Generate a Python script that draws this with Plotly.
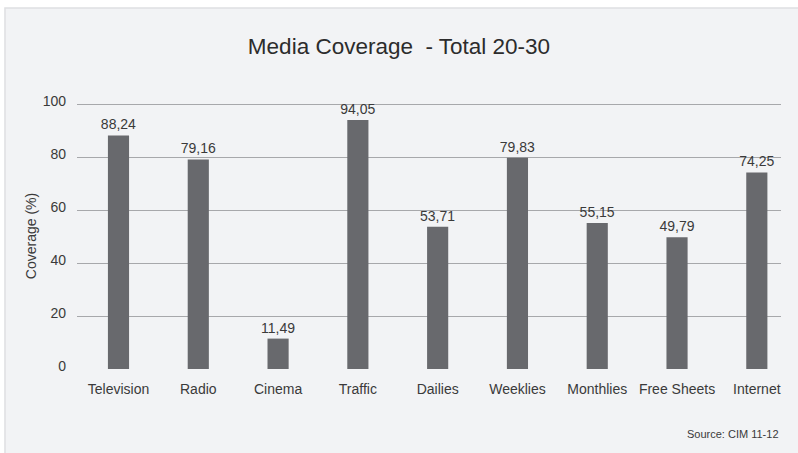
import plotly.graph_objects as go

categories = ["Television", "Radio", "Cinema", "Traffic", "Dailies", "Weeklies",
              "Monthlies", "Free Sheets", "Internet"]
coverage = [88.24, 79.16, 11.49, 94.05, 53.71, 79.83, 55.15, 49.79, 74.25]
y_ticks = [0, 20, 40, 60, 80, 100]

labels = [f"{v:.2f}".replace(".", ",") for v in coverage]

FONT = "Liberation Sans, Arial, Helvetica, sans-serif"
TXT = "#3a3a3a"

fig = go.Figure()
fig.add_trace(go.Bar(
    x=categories, y=coverage, text=labels, textposition="outside",
    constraintext="none",
    textfont=dict(family=FONT, size=14, color=TXT),
    marker=dict(color="#68696d", line=dict(width=0)),
    width=0.265, cliponaxis=False, hoverinfo="x+y",
))

fig.update_layout(
    width=798, height=453,
    margin=dict(l=77, r=17, t=103, b=84),
    paper_bgcolor="#ffffff",
    plot_bgcolor="rgba(0,0,0,0)",
    showlegend=False,
    font=dict(family=FONT, size=14, color=TXT),
    title=dict(text="Media Coverage  - Total 20-30", x=0.5, xanchor="center",
               y=1 - 46 / 453, yanchor="middle", yref="container",
               font=dict(family=FONT, size=22.5, color="#2c2c2c")),
    xaxis=dict(type="category", range=[-0.52, 8.303], showgrid=False,
               zeroline=False, showline=False, ticks="",
               ticklabelstandoff=10,
               tickfont=dict(family=FONT, size=14, color=TXT)),
    yaxis=dict(range=[0, 100.5], tickvals=y_ticks, showgrid=True,
               gridcolor="#a7a8ab", gridwidth=1, zeroline=False,
               showline=False, ticks="", ticklabelstandoff=10,
               ticklabelshift=-3,
               tickfont=dict(family=FONT, size=14, color=TXT),
               title=dict(text="Coverage (%)", standoff=2,
                          font=dict(family=FONT, size=14, color=TXT))),
    shapes=[
        dict(type="rect", xref="paper", yref="paper",
             x0=-0.1023, x1=1.2, y0=-0.5, y1=(369 - 8) / 266,
             fillcolor="#f2f3f5", line=dict(color="#dedfe2", width=1.5),
             layer="below"),
    ],
    annotations=[
        dict(text="Source: CIM 11-12", xref="paper", yref="paper",
             x=1.0, y=(369 - 434) / 266, xanchor="right", yanchor="middle",
             showarrow=False, font=dict(family=FONT, size=11, color=TXT)),
    ],
)

fig.write_html("out.html",
               config={"displayModeBar": False},
               post_script="document.body.style.margin='0';"
                           "document.body.style.overflow='hidden';")
